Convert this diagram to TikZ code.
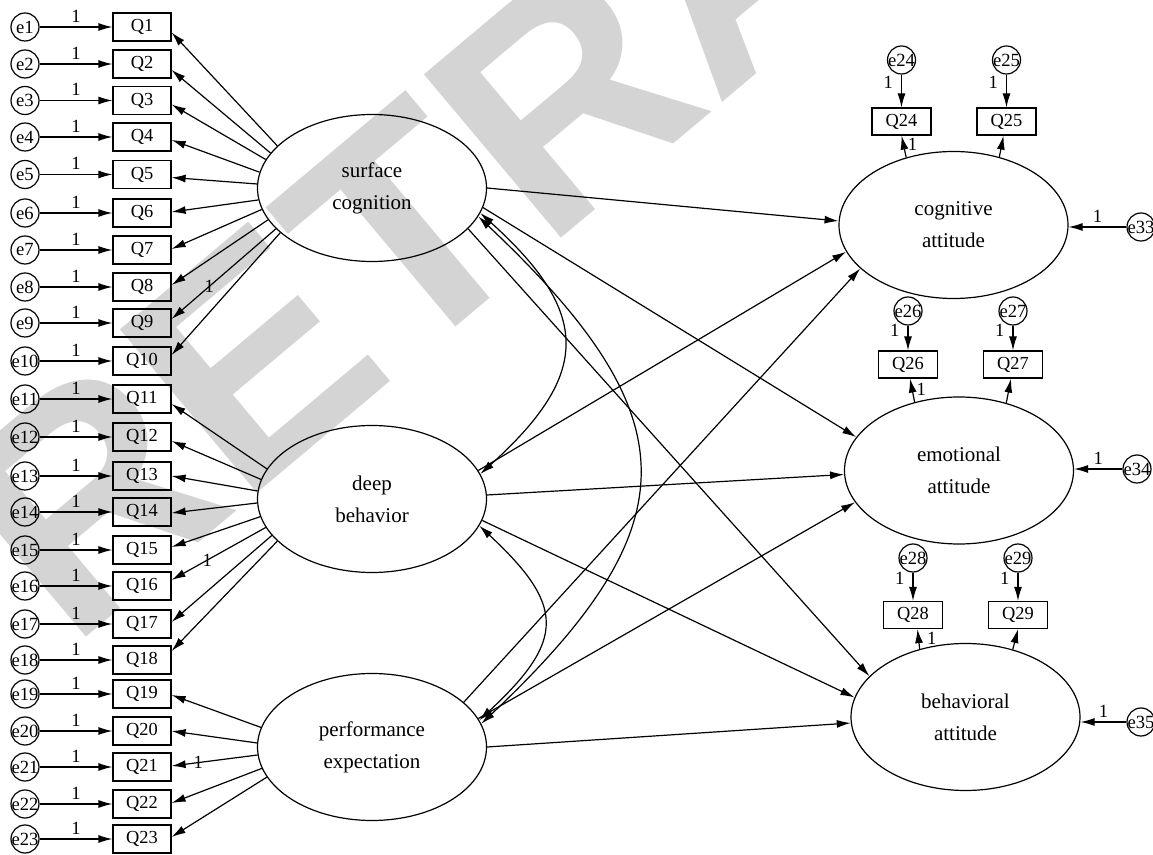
\documentclass[tikz,border=0pt]{standalone}
\usepackage{fontspec}
\setmainfont{Liberation Serif}
\newfontfamily\wmfont{Liberation Sans}
\usetikzlibrary{arrows.meta,calc,shapes.geometric}
\definecolor{wm}{RGB}{212,212,212}
\newcommand\zw[1]{\makebox[0pt]{#1}}
\begin{document}
\begin{tikzpicture}[x=0.5pt,y=-0.5pt,
  lat/.style={ellipse,draw,line width=0.6pt,minimum width=114.5pt,minimum height=73.5pt,inner sep=0pt,align=center,font=\fontsize{10.5}{16}\selectfont},
  obs/.style={draw,line width=0.6pt,minimum width=29pt,minimum height=14pt,inner sep=0pt,font=\fontsize{9.2}{11}\selectfont},
  obsr/.style={obs,minimum width=29.5pt,minimum height=13.5pt},
  err/.style={circle,draw,line width=0.6pt,minimum size=14pt,inner sep=0pt,font=\fontsize{9.3}{11}\selectfont},
  lab/.style={font=\fontsize{9.3}{11}\selectfont,inner sep=2pt},
  arr/.style={line width=0.6pt,-{Latex[length=7pt,width=4pt]}},
  dbl/.style={line width=0.6pt,{Latex[length=7pt,width=4pt]}-{Latex[length=7pt,width=4pt]}}
]
\useasboundingbox (0,0) rectangle (1153,855);
% watermark
\node[rotate=40,text=wm,font=\wmfont\bfseries\fontsize{155}{155}\selectfont,inner sep=0pt] (wmk) at (734,-46) {RETRACTED};

% latent variables
\node[lat] (sc) at (372,188) {surface\\cognition};
\node[lat] (db) at (372,499) {deep\\behavior};
\node[lat] (pe) at (372,747) {performance\\expectation};
\node[lat] (ca) at (953.5,225) {cognitive\\attitude};
\node[lat] (ea) at (959,470.5) {emotional\\attitude};
\node[lat] (ba) at (965.5,717) {behavioral\\attitude};

% left indicators
\foreach \i/\y in {1/27,2/64,3/100.5,4/137,5/174.5,6/213,7/250,8/287,9/323,10/361,11/399,12/437,13/476,14/512,15/550,16/586,17/624,18/660,19/694,20/731,21/767,22/804,23/839}{
  \node[err] (e\i) at (25,\y) {\zw{e\i}};
  \node[obs] (Q\i) at (142,\y) {Q\i};
  \draw[arr] (e\i) -- node[lab,above] {1} (Q\i);
}

% loadings
\foreach \i/\a/\d in {1/156/5.5,2/161/6,3/165/4,4/172/3,5/178/3,6/186/-1,7/191/-1,8/197/-2,9/203/-4,10/206/-6}
  \draw[arr] (sc.\a) -- ($(Q\i.east)+(0,\d)$);
\foreach \i/\a/\d in {11/164/5,12/170/4,13/176/0,14/182/1,15/189/-3,16/195/-6,17/200/-2,18/204/-9}
  \draw[arr] (db.\a) -- ($(Q\i.east)+(0,\d)$);
\foreach \i/\a/\d in {19/170/1,20/178/0,21/184/-1,22/191/-1,23/196/-2}
  \draw[arr] (pe.\a) -- ($(Q\i.east)+(0,\d)$);
\node[lab,inner sep=0pt] (l9) at ($(sc.203)!0.64!($(Q9.east)+(0,-4)$)$) {1};
\node[lab,inner sep=0pt] (l16) at ($(db.195)!0.62!($(Q16.east)+(0,-6)$)$) {1};
\node[lab,inner sep=0pt] (l21) at ($(pe.184)!0.69!($(Q21.east)+(0,-1)$)$) {1};

% right indicators
\node[obsr] (Q24) at (901.5,121.5) {Q24};
\node[obsr] (Q25) at (1006.5,121.5) {Q25};
\node[err] (e24) at (901.5,60) {\zw{e24}};
\node[err] (e25) at (1006.5,60) {\zw{e25}};
\draw[arr] (e24) -- node[lab,pos=0.25,left,inner sep=4pt]{1} (Q24);
\draw[arr] (e25) -- node[lab,pos=0.25,left,inner sep=4pt]{1} (Q25);
\draw[arr] (ca.125) -- node[lab,pos=0.6,right]{1} (Q24.south);
\draw[arr] (ca.56) -- ($(Q25.south)+(-3,0)$);

\node[obsr] (Q26) at (908,364.5) {Q26};
\node[obsr] (Q27) at (1013,364.5) {Q27};
\node[err] (e26) at (908,311) {\zw{e26}};
\node[err] (e27) at (1013,311) {\zw{e27}};
\draw[arr] (e26) -- node[lab,pos=0.2,left,inner sep=4pt]{1} (Q26);
\draw[arr] (e27) -- node[lab,pos=0.2,left,inner sep=4pt]{1} (Q27);
\draw[arr] (ea.123) -- node[lab,pos=0.56,right]{1} ($(Q26.south)+(2,0)$);
\draw[arr] (ea.55) -- ($(Q27.south)+(-2,0)$);

\node[obsr] (Q28) at (913,615) {Q28};
\node[obsr] (Q29) at (1018,615) {Q29};
\node[err] (e28) at (913,558) {\zw{e28}};
\node[err] (e29) at (1018,558) {\zw{e29}};
\draw[arr] (e28) -- node[lab,pos=0.2,left,inner sep=4pt]{1} (Q28);
\draw[arr] (e29) -- node[lab,pos=0.2,left,inner sep=4pt]{1} (Q29);
\draw[arr] (ba.124) -- node[lab,pos=0.55,right,inner sep=4pt]{1} ($(Q28.south)+(4.5,0)$);
\draw[arr] (ba.55) -- (Q29.south);

% residuals
\node[err] (e33) at (1141,227) {\zw{e33}};
\node[err] (e34) at (1137,469) {\zw{e34}};
\node[err] (e35) at (1141,722) {\zw{e35}};
\draw[arr] (e33) -- node[lab,above]{1} (e33 -| ca.east);
\draw[arr] (e34) -- node[lab,above]{1} (e34 -| ea.east);
\draw[arr] (e35) -- node[lab,above]{1} (e35 -| ba.east);

% structural paths
\draw[arr] (sc.east) -- (ca.178);
\draw[arr] (sc.-10) -- (ea.162);
\draw[arr] (sc.-23) -- (ba.157);
\draw[arr] (db.15) -- (ca.194);
\draw[arr] (db.2) -- (ea.182);
\draw[arr] (db.-11) -- (ba.170);
\draw[arr] (pe.26) -- (ca.205);
\draw[arr] (pe.15) -- (ea.197);
\draw[arr] (pe.east) -- (ba.183);

% covariances
\draw[dbl] (sc.-13) .. controls ($(sc.-13)+(111,100)$) and ($(db.13)+(111,-100)$) .. (db.13);
\draw[dbl] (sc.-15) .. controls ($(sc.-15)+(212,200)$) and ($(pe.12)+(212,-200)$) .. (pe.12);
\draw[dbl] (db.-14) .. controls ($(db.-14)+(86,80)$) and ($(pe.14)+(86,-80)$) .. (pe.14);
\end{tikzpicture}
\end{document}
